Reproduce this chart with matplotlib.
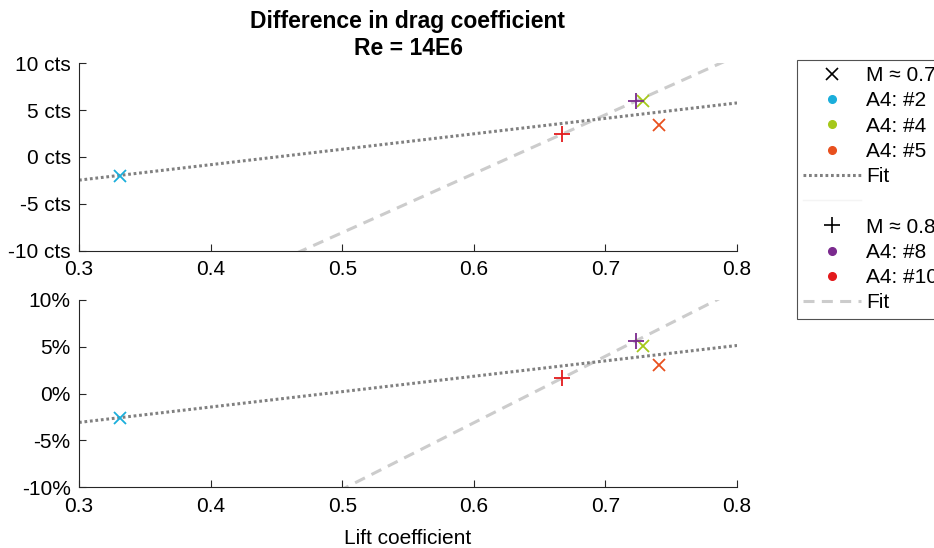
import numpy as np
import matplotlib
matplotlib.use("Agg")
import matplotlib.pyplot as plt
from matplotlib.lines import Line2D
from matplotlib.ticker import FuncFormatter

plt.rcParams['font.family'] = ['Liberation Sans', 'DejaVu Sans']

# M ~ 0.7 runs (x markers)
runs_07 = ["A4: #2", "A4: #4", "A4: #5"]
cl_07 = [0.331, 0.7287, 0.7407]
dcd_cts_07 = [-2.0, 6.01, 3.42]
dcd_pct_07 = [-2.6, 5.11, 3.05]
col_07 = ["#1aaedb", "#a5c81a", "#e8501e"]

# M ~ 0.8 runs (+ markers)
runs_08 = ["A4: #8", "A4: #10"]
cl_08 = [0.7234, 0.6668]
dcd_cts_08 = [5.98, 2.42]
dcd_pct_08 = [5.65, 1.63]
col_08 = ["#7b2a8e", "#e31a1c"]

xticks = [0.3, 0.4, 0.5, 0.6, 0.7, 0.8]
yticks = [-10, -5, 0, 5, 10]

FS = 15
fig = plt.figure(figsize=(9.34, 5.48), dpi=100)
ax1 = fig.add_axes([79 / 934, 1 - 250.7 / 548, 658 / 934, 187.4 / 548])
ax2 = fig.add_axes([79 / 934, 1 - 487.3 / 548, 658 / 934, 187.4 / 548])

xfit = np.array([0.3, 0.8])
axc = "#262626"
dot_col, dash_col = '#808080', '#cccccc'
dot_pat, dash_pat = (0.9, 0.9), (3.6, 2.4)

def draw(ax, y07, y08, fmt):
    p07 = np.polyfit(cl_07, y07, 1)
    p08 = np.polyfit(cl_08, y08, 1)
    ax.plot(xfit, np.polyval(p07, xfit), color=dot_col, lw=2.2,
            dashes=dot_pat, zorder=2)
    ax.plot(xfit, np.polyval(p08, xfit), color=dash_col, lw=2.2,
            dashes=dash_pat, zorder=1)
    for x, y, c in zip(cl_07, y07, col_07):
        ax.plot(x, y, 'x', color=c, ms=8.5, mew=1.3, zorder=3)
    for x, y, c in zip(cl_08, y08, col_08):
        ax.plot(x, y, '+', color=c, ms=12, mew=1.3, zorder=3)
    ax.set_xlim(0.3, 0.8)
    ax.set_ylim(-10, 10)
    ax.set_xticks(xticks)
    ax.set_xticklabels([str(t) for t in xticks])
    ax.set_yticks(yticks)
    ax.yaxis.set_major_formatter(FuncFormatter(fmt))
    for s in ['top', 'right']:
        ax.spines[s].set_visible(False)
    for s in ['left', 'bottom']:
        ax.spines[s].set_color(axc)
        ax.spines[s].set_linewidth(0.8)
    ax.tick_params(direction='in', length=5, width=0.8, color=axc,
                   labelsize=FS, labelcolor='black')
    ax.tick_params(axis='y', pad=6)
    ax.tick_params(axis='x', pad=7)

draw(ax1, dcd_cts_07, dcd_cts_08, lambda v, p: "%d cts" % v)
draw(ax2, dcd_pct_07, dcd_pct_08, lambda v, p: "%d%%" % v)

ax1.set_title("Difference in drag coefficient\nRe = 14E6", fontsize=16.5,
              fontweight='bold', pad=6, linespacing=1.2)
ax2.set_xlabel("Lift coefficient", fontsize=FS, labelpad=9)

handles = [Line2D([], [], ls='none', marker='x', color='black', ms=8, mew=1.2)]
labels = ["M \u2248 0.7"]
for r, c in zip(runs_07, col_07):
    handles.append(Line2D([], [], ls='none', marker='o', color=c, ms=5.5))
    labels.append(r)
handles.append(Line2D([], [], color=dot_col, lw=2.2, dashes=dot_pat))
labels.append("Fit")
handles.append(Line2D([], [], ls='-', color='#f4f4f4', lw=1))
labels.append(" ")
handles.append(Line2D([], [], ls='none', marker='+', color='black', ms=12, mew=1.2))
labels.append("M \u2248 0.8")
for r, c in zip(runs_08, col_08):
    handles.append(Line2D([], [], ls='none', marker='o', color=c, ms=5.5))
    labels.append(r)
handles.append(Line2D([], [], color=dash_col, lw=2.2, dashes=dash_pat))
labels.append("Fit")

leg = fig.legend(handles, labels, loc='upper left',
                 bbox_to_anchor=(797 / 934, 1 - 60 / 548),
                 fontsize=FS, frameon=True, fancybox=False, edgecolor=axc,
                 handlelength=2.75, handletextpad=0.25, labelspacing=0.3,
                 borderpad=0.3, borderaxespad=0)
leg.get_frame().set_linewidth(0.8)

fig.savefig("out.png", dpi=100)
